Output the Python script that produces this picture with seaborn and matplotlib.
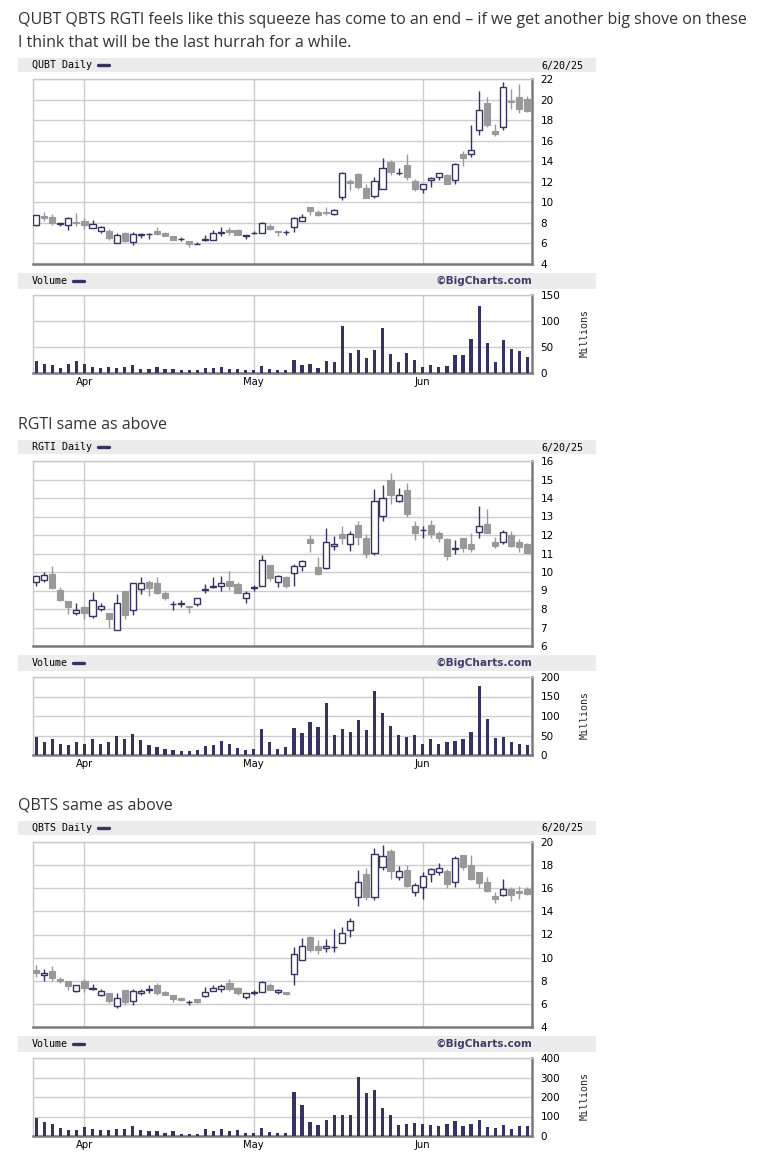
import matplotlib
matplotlib.use('Agg')
import numpy as np
import pandas as pd
import seaborn as sns
import matplotlib.pyplot as plt
from matplotlib.patches import Rectangle
from matplotlib.lines import Line2D

# Datos (Mar 24 - Jun 20, 2025)
qubt_open = [7.81, 8.65, 8.55, 7.88, 7.81, 8.05, 8.23, 7.49, 7.23, 7.23, 6.03, 7.0, 6.1, 6.85, 6.9, 7.19,
             7.03, 6.71, 6.4, 6.25, 5.95, 6.3, 6.35, 7.05, 7.35, 7.35, 6.72, 7.0, 7.06, 7.68, 7.2, 7.1,
             7.6, 8.17, 9.53, 9.08, 9.06, 8.82, 10.5, 12.1, 12.78, 11.38, 10.57, 11.29, 13.92, 12.83, 13.62,
             12.03, 11.29, 12.13, 12.42, 12.65, 12.13, 14.73, 14.66, 17.0, 19.66, 16.97, 17.32, 19.9, 20.25, 20.08]
qubt_high = [8.75, 9.05, 8.85, 7.97, 8.6, 9.0, 8.46, 8.3, 7.65, 7.39, 7.06, 7.1, 7.1, 7.06, 7.0, 7.62,
             7.1, 6.71, 6.64, 6.25, 6.1, 6.84, 7.32, 7.58, 7.58, 7.39, 6.84, 7.2, 8.1, 7.88, 7.2, 7.35,
             8.6, 8.86, 9.53, 9.3, 9.5, 9.37, 12.94, 12.3, 12.84, 11.77, 12.45, 14.3, 14.14, 13.33, 14.7,
             12.26, 11.77, 12.42, 12.84, 12.75, 13.82, 15.02, 17.55, 20.86, 20.21, 17.62, 21.7, 21.06, 21.5, 20.38]
qubt_low = [7.65, 8.2, 7.75, 7.65, 7.26, 7.65, 7.42, 7.49, 7.06, 6.29, 6.03, 6.1, 5.86, 6.55, 6.48, 6.8,
            6.68, 6.29, 6.2, 5.7, 5.93, 6.28, 6.29, 6.74, 6.84, 6.8, 6.45, 6.9, 7.06, 7.26, 6.77, 6.84,
            7.16, 8.17, 8.72, 8.65, 8.72, 8.72, 10.18, 11.16, 11.32, 10.38, 10.41, 11.29, 12.62, 12.62, 12.13,
            11.06, 10.86, 11.51, 12.13, 11.77, 11.8, 13.56, 14.37, 16.58, 17.29, 16.45, 17.06, 19.1, 18.66, 18.75]
qubt_close = [8.72, 8.45, 7.95, 7.95, 8.46, 7.95, 7.75, 7.88, 7.58, 6.51, 6.81, 6.19, 6.9, 6.9, 6.93, 6.94,
              6.77, 6.38, 6.42, 5.93, 5.97, 6.42, 7.0, 7.1, 7.1, 6.84, 6.82, 7.03, 7.97, 7.36, 7.1, 7.13,
              8.49, 8.56, 9.11, 8.72, 8.95, 9.27, 12.84, 11.84, 11.45, 10.47, 12.03, 13.3, 13.0, 12.86, 12.45,
              11.32, 11.77, 12.36, 12.84, 11.8, 13.72, 14.27, 15.08, 18.98, 17.49, 16.61, 21.22, 19.73, 19.05, 18.85]
qubt_vol = [23.7, 17.3, 15.4, 10.3, 17.3, 23.7, 17.3, 11.5, 10.3, 11.5, 10.3, 11.5, 15.4, 8.3, 7, 11.5,
            7, 7, 5, 5, 5, 10.3, 10.3, 11.5, 8.3, 7, 5.8, 6.4, 13.5, 8.3, 6.4, 5,
            25.6, 15.4, 17.3, 10.3, 23.7, 21.8, 91, 39, 44, 28.8, 44, 87, 37, 21.8, 39,
            25.6, 11.5, 15.4, 11.5, 14, 34.6, 34.6, 65, 129.5, 58, 21.8, 64, 46, 43, 31.4]

rgti_open = [9.45, 9.56, 9.89, 9.04, 8.44, 7.77, 8.12, 7.61, 7.99, 7.79, 6.89, 8.98, 7.97, 9.07, 9.47, 9.42,
             8.86, 8.25, 8.28, 8.17, 8.26, 9.02, 9.2, 9.24, 9.53, 9.36, 8.59, 9.16, 9.24, 10.39, 9.45, 9.71,
             9.94, 10.32, 11.8, 10.29, 10.2, 11.41, 12.06, 11.52, 12.55, 11.84, 11.01, 13.03, 14.99, 13.85, 14.41,
             12.49, 12.26, 12.55, 12.11, 11.8, 11.26, 11.84, 11.52, 12.17, 12.62, 11.62, 11.62, 12.02, 11.62, 11.52]
rgti_high = [9.83, 10.0, 10.34, 9.2, 8.44, 8.31, 8.17, 8.91, 8.31, 7.79, 8.82, 8.98, 9.4, 9.74, 9.58, 9.74,
             8.97, 8.44, 8.46, 8.17, 8.59, 9.35, 9.74, 9.8, 10.07, 9.47, 8.95, 9.31, 10.92, 10.39, 9.83, 9.8,
             10.41, 10.67, 12.02, 10.83, 12.4, 11.95, 12.49, 12.22, 12.73, 12.06, 14.46, 14.68, 15.33, 14.52, 14.79,
             12.78, 12.49, 12.82, 12.2, 11.86, 11.75, 11.84, 12.13, 13.59, 13.4, 11.9, 12.28, 12.24, 11.79, 11.59]
rgti_low = [9.27, 9.44, 9.06, 8.41, 7.74, 7.65, 7.48, 7.54, 7.9, 7.0, 6.85, 7.48, 7.7, 8.82, 8.68, 8.8,
            8.46, 7.97, 8.1, 7.81, 8.15, 8.84, 9.13, 8.97, 9.02, 8.84, 8.35, 8.97, 9.24, 9.49, 9.18, 9.11,
            9.27, 10.03, 11.06, 9.82, 10.18, 11.19, 11.52, 11.14, 11.48, 10.74, 10.9, 12.75, 13.7, 13.78, 13.0,
            11.71, 11.84, 11.82, 11.61, 10.67, 10.95, 11.06, 11.06, 11.82, 12.09, 11.28, 11.5, 11.33, 11.1, 11.03]
rgti_close = [9.8, 9.85, 9.16, 8.46, 8.13, 7.93, 7.81, 8.46, 8.17, 7.48, 8.31, 7.7, 9.4, 9.4, 9.11, 8.84,
              8.62, 8.27, 8.3, 8.1, 8.59, 9.09, 9.25, 9.4, 9.22, 8.84, 8.86, 9.18, 10.65, 9.65, 9.76, 9.22,
              10.32, 10.59, 11.55, 9.89, 11.62, 11.5, 11.82, 12.06, 11.9, 10.95, 13.85, 14.0, 14.16, 14.17, 13.12,
              12.09, 12.28, 12.04, 11.82, 10.85, 11.3, 11.28, 11.23, 12.47, 12.09, 11.39, 12.17, 11.42, 11.33, 11.05]
rgti_vol = [46.8, 33.8, 40.7, 28.6, 26, 33.8, 28.6, 40.7, 28.6, 33.8, 48.5, 40.7, 54.5, 38, 25, 20.8,
            15.6, 13, 10.4, 10.4, 13, 22.5, 26, 36.4, 28.6, 17.3, 12.1, 14.7, 66.7, 33.8, 15.6, 20.8,
            69.3, 57.1, 84.8, 71.9, 132.5, 52, 66.7, 59.7, 90.9, 64.9, 163.6, 107.4, 74.5, 52, 46.8,
            52, 28.6, 40.7, 28.6, 33.8, 36.4, 40.7, 59.7, 176.6, 93.5, 44.2, 46.8, 33.8, 28.6, 26]

qbts_open = [8.9, 8.46, 8.81, 8.12, 7.97, 7.1, 7.94, 7.3, 6.75, 6.9, 5.8, 7.16, 6.23, 6.9, 7.22, 7.59,
             6.99, 6.75, 6.49, 6.18, 6.38, 6.67, 7.13, 7.28, 7.77, 7.33, 6.61, 6.96, 7.04, 7.65, 6.99, 7.07,
             8.58, 9.83, 11.77, 10.99, 10.84, 10.93, 11.3, 12.43, 15.28, 17.25, 15.28, 17.83, 19.25, 16.93, 17.57,
             15.65, 16.14, 17.22, 17.39, 17.51, 16.58, 18.9, 18.03, 17.39, 16.55, 15.33, 15.45, 15.94, 15.77, 15.94]
qbts_high = [9.33, 8.99, 9.25, 8.32, 7.97, 7.65, 8.12, 7.74, 7.25, 6.9, 6.9, 7.16, 7.3, 7.3, 7.59, 7.8,
             7.1, 6.75, 6.55, 6.35, 6.38, 7.42, 7.59, 7.68, 8.12, 7.45, 6.9, 7.22, 7.94, 7.83, 7.28, 7.07,
             10.93, 11.71, 11.86, 11.51, 11.59, 12.46, 12.61, 13.42, 17.57, 17.77, 19.51, 19.77, 19.42, 17.91, 18.03,
             16.43, 17.39, 17.71, 18.17, 17.65, 18.81, 18.9, 18.9, 17.39, 16.96, 15.68, 16.78, 16.09, 16.17, 16.09]
qbts_low = [8.32, 7.97, 7.97, 7.77, 7.16, 7.01, 7.07, 7.19, 6.67, 6.06, 5.68, 5.88, 5.94, 6.75, 6.9, 6.81,
            6.75, 6.2, 6.23, 5.88, 6.06, 6.61, 7.1, 6.99, 7.13, 6.81, 6.38, 6.75, 7.01, 7.16, 6.84, 6.78,
            7.59, 9.77, 10.52, 10.32, 10.49, 10.49, 11.3, 11.77, 14.49, 15.01, 15.01, 17.54, 16.81, 16.72, 16.12,
            15.3, 15.1, 16.55, 17.16, 16.03, 16.14, 17.62, 16.7, 16.03, 15.68, 14.72, 15.33, 14.9, 15.07, 15.45]
qbts_close = [8.7, 8.7, 8.23, 7.94, 7.54, 7.59, 7.36, 7.36, 7.13, 6.23, 6.49, 6.14, 7.1, 7.13, 7.25, 6.9,
              6.81, 6.43, 6.32, 6.2, 6.14, 7.04, 7.33, 7.51, 7.25, 6.93, 6.9, 6.99, 7.86, 7.19, 7.22, 6.87,
              10.35, 11.04, 10.67, 10.67, 11.04, 10.96, 12.17, 13.13, 16.52, 15.28, 18.96, 18.78, 17.45, 17.48, 16.23,
              16.29, 17.04, 17.65, 17.77, 16.41, 18.61, 17.88, 16.81, 16.49, 15.8, 15.1, 15.97, 15.45, 15.59, 15.51]
qbts_vol = [92.7, 72, 61.8, 41.2, 30.9, 30.9, 46.4, 36, 30.9, 30.9, 36, 36, 51.5, 30.9, 25.8, 25.8,
            15.5, 25.8, 10.3, 10.3, 10.3, 36, 25.8, 36, 25.8, 30.9, 15.5, 15.5, 41.2, 20.6, 15.5, 15.5,
            226.6, 159.7, 72, 56.7, 82.4, 108.2, 108.2, 108.2, 303.9, 221.5, 236.9, 144.2, 108.2, 56.7, 61.8,
            67, 61.8, 56.7, 51.5, 61.8, 77.3, 51.5, 61.8, 82.4, 46.4, 41.2, 56.7, 36, 51.5, 51.5]

holidays = ['2025-04-18', '2025-05-26', '2025-06-19']
dates = pd.bdate_range('2025-03-24', '2025-06-20', freq='C', holidays=holidays)
month_names = ['Apr', 'May', 'Jun']
last_date = '6/20/25'

NAVY = '#333366'
GRAY = '#999999'
GRID = '#cccccc'
W, H = 768, 1164

sns.set_style('white')
plt.rcParams['font.family'] = ['DejaVu Sans']

fig = plt.figure(figsize=(W / 100, H / 100), dpi=100)
fig.patch.set_facecolor('white')

x = np.arange(len(dates))
month_pos = [int(np.argmax(dates.month == m)) for m in (4, 5, 6)]
XLIM = (-0.39, 61.56)


def px_axes(x0, y0, x1, y1):
    return fig.add_axes([x0 / W, 1 - y1 / H, (x1 - x0) / W, (y1 - y0) / H])


def header_bar(y0, y1, label, dash_x, right_text=None, bold_right=False):
    fig.patches.append(Rectangle((18 / W, 1 - y1 / H), (596 - 18) / W, (y1 - y0) / H,
                                 transform=fig.transFigure, facecolor='#ececec', edgecolor='none'))
    yc = 1 - (y0 + y1) / 2 / H
    fig.text(32 / W, yc, label, family='DejaVu Sans Mono', fontsize=7.2, va='center', color='black')
    fig.lines.append(Line2D([dash_x / W, (dash_x + 11) / W], [yc, yc], lw=2.4, color=NAVY,
                            transform=fig.transFigure))
    if right_text is not None:
        if bold_right:
            fig.text(532 / W, yc, right_text, fontsize=7.6, fontweight='bold', color='#3d3d6b',
                     ha='right', va='center')
        else:
            fig.text(541 / W, yc - 0.5 / H, right_text, family='DejaVu Sans Mono', fontsize=7.2,
                     va='center', color='black')


def style_frame(ax):
    for s in ('left', 'top'):
        ax.spines[s].set_color('#c8c8c8')
        ax.spines[s].set_linewidth(1)
    for s in ('right', 'bottom'):
        ax.spines[s].set_color('#7a7a7a')
        ax.spines[s].set_linewidth(1.8)
        ax.spines[s].set_visible(True)
    ax.yaxis.tick_right()
    ax.tick_params(axis='both', length=0, labelsize=7.5, colors='black')
    ax.tick_params(axis='y', pad=6)
    ax.set_xticks(month_pos)
    ax.grid(True, color=GRID, lw=1)
    ax.set_axisbelow(True)
    ax.set_xlim(*XLIM)
    ax.set_xlabel('')
    ax.set_ylabel('')


def draw_candles(ax, o, h, l, c):
    o, h, l, c = map(np.asarray, (o, h, l, c))
    up = c >= o
    wick_colors = np.where(up, NAVY, GRAY)
    ax.vlines(x, l, h, colors=wick_colors, lw=1.0, zorder=2)
    bottom = np.minimum(o, c)
    height = np.maximum(np.abs(c - o), 0.02)
    ax.bar(x[up], height[up], bottom=bottom[up], width=0.76, facecolor='white',
           edgecolor=NAVY, lw=1.0, zorder=3)
    ax.bar(x[~up], height[~up], bottom=bottom[~up], width=0.76, facecolor=GRAY,
           edgecolor=GRAY, lw=0.8, zorder=3)


def stock_panel(top, ticker, o, h, l, c, vol, ylim, ystep, vmax, vstep):
    # top = y pixel of the price header bar
    header_bar(top, top + 14, f'{ticker} Daily', 98, last_date)
    ax = px_axes(33, top + 21, 532, top + 206)
    draw_candles(ax, o, h, l, c)
    ax.set_ylim(*ylim)
    ax.set_yticks(np.arange(ylim[0], ylim[1] + 0.01, ystep))
    style_frame(ax)
    ax.set_xticklabels([])

    header_bar(top + 215, top + 231, 'Volume', 73, '©BigCharts.com', bold_right=True)
    axv = px_axes(33, top + 237, 532, top + 315)
    vdf = pd.DataFrame({'day': x, 'vol': vol})
    sns.barplot(data=vdf, x='day', y='vol', color=NAVY, saturation=1, width=0.4,
                errorbar=None, ax=axv, zorder=3, linewidth=0)
    axv.set_ylim(0, vmax)
    axv.set_yticks(np.arange(0, vmax + 1, vstep))
    style_frame(axv)
    axv.set_xticklabels(month_names, fontsize=7.2)
    axv.tick_params(axis='x', pad=3)
    fig.text(585 / W, 1 - (top + 275) / H, 'Millions', family='DejaVu Sans Mono', fontsize=7.2,
             rotation=90, ha='center', va='center')


TXT = dict(family=['Open Sans', 'DejaVu Sans'], fontsize=11.55, color='#333333', va='center')
fig.text(18 / W, 1 - 20 / H,
         'QUBT QBTS RGTI feels like this squeeze has come to an end – if we get another big shove on these',
         **TXT)
fig.text(18 / W, 1 - 43 / H, 'I think that will be the last hurrah for a while.', **TXT)

stock_panel(58, 'QUBT', qubt_open, qubt_high, qubt_low, qubt_close, qubt_vol, (4, 22), 2, 150, 50)

fig.text(18 / W, 1 - 425 / H, 'RGTI same as above', **TXT)
stock_panel(440, 'RGTI', rgti_open, rgti_high, rgti_low, rgti_close, rgti_vol, (6, 16), 1, 200, 50)

fig.text(18 / W, 1 - 806 / H, 'QBTS same as above', **TXT)
stock_panel(821, 'QBTS', qbts_open, qbts_high, qbts_low, qbts_close, qbts_vol, (4, 20), 2, 400, 100)

plt.savefig('out.png', dpi=100, facecolor='white')
